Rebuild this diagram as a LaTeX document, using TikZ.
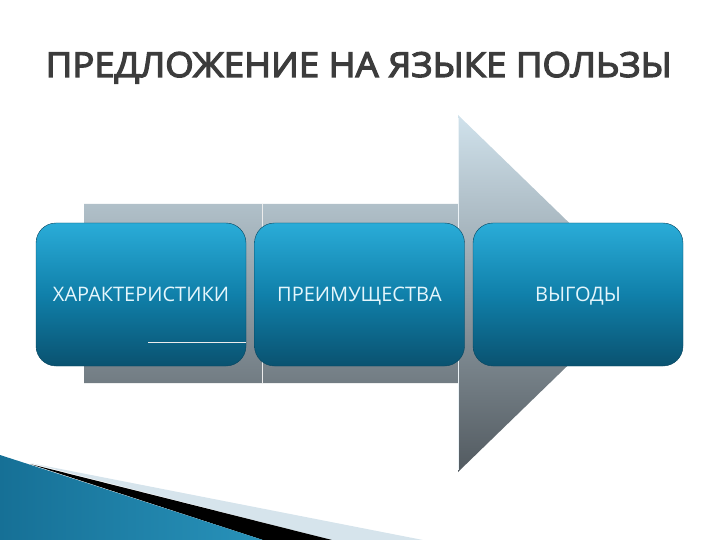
\documentclass[tikz,border=0pt]{standalone}
\usepackage{fontspec}
\setmainfont{Open Sans}
\begin{document}
\begin{tikzpicture}[x=1pt,y=-1pt]
\definecolor{arrowTop}{RGB}{208,226,236}
\definecolor{arrowBot}{RGB}{82,90,96}
\definecolor{boxTop}{RGB}{42,172,216}
\definecolor{boxMid}{RGB}{16,128,170}
\definecolor{boxBot}{RGB}{10,82,112}
\definecolor{boxEdge}{RGB}{8,70,96}
\definecolor{boxText}{RGB}{228,246,252}
\definecolor{titleGray}{RGB}{60,60,60}
\definecolor{bandGray}{RGB}{214,228,236}
\definecolor{decoL}{RGB}{22,112,150}
\definecolor{decoM}{RGB}{64,172,212}
\definecolor{decoR}{RGB}{40,146,186}
\tikzset{
  bluebox/.style={rounded corners=20pt, minimum width=210pt, minimum height=143pt,
    top color=boxTop, bottom color=boxBot, middle color=boxMid,
    draw=boxEdge, line width=0.4pt, text=boxText, font=\fontsize{20}{22}\selectfont,
    inner sep=0pt, text height=14.5pt, text depth=0pt},
  titletext/.style={anchor=base west, inner sep=0pt, text=titleGray},
  hairline/.style={draw=white!85!gray, line width=0.7pt}
}
\newcommand{\titletxt}{\resizebox{626pt}{25pt}{\special{pdf:literal 2 Tr 0.35 w}ПРЕДЛОЖЕНИЕ НА ЯЗЫКЕ ПОЛЬЗЫ\special{pdf:literal 0 Tr}}}
\useasboundingbox (0,0) rectangle (720,540);
% title
\node[titletext] (title) at (45.5,77) {\titletxt};
% big arrow
\shade[top color=arrowTop, bottom color=arrowBot]
  (84,204) -- (458,204) -- (458,115) -- (642,293.5) -- (458,472) -- (458,383) -- (84,383) -- cycle;
\draw[hairline] (262,204) -- (262,383);
\draw[draw=white!60!arrowTop, line width=0.6pt] (458.5,118) -- (458.5,470);
% boxes
\node[bluebox] (b1) at (141,294.5) {ХАРАКТЕРИСТИКИ};
\node[bluebox] (b2) at (359.5,294.5) {ПРЕИМУЩЕСТВА};
\node[bluebox] (b3) at (578,294.5) {ВЫГОДЫ};
\draw[hairline] (148,342) -- (246,342);
% bottom-left decoration
\fill[bandGray] (30,463) -- (423,540) -- (332,540) -- cycle;
\fill[black] (30,464) -- (332,540) -- (263,540) -- cycle;
\shade[left color=decoL, middle color=decoM, right color=decoR]
  (0,455) -- (263,540) -- (0,540) -- cycle;
\end{tikzpicture}
\end{document}
